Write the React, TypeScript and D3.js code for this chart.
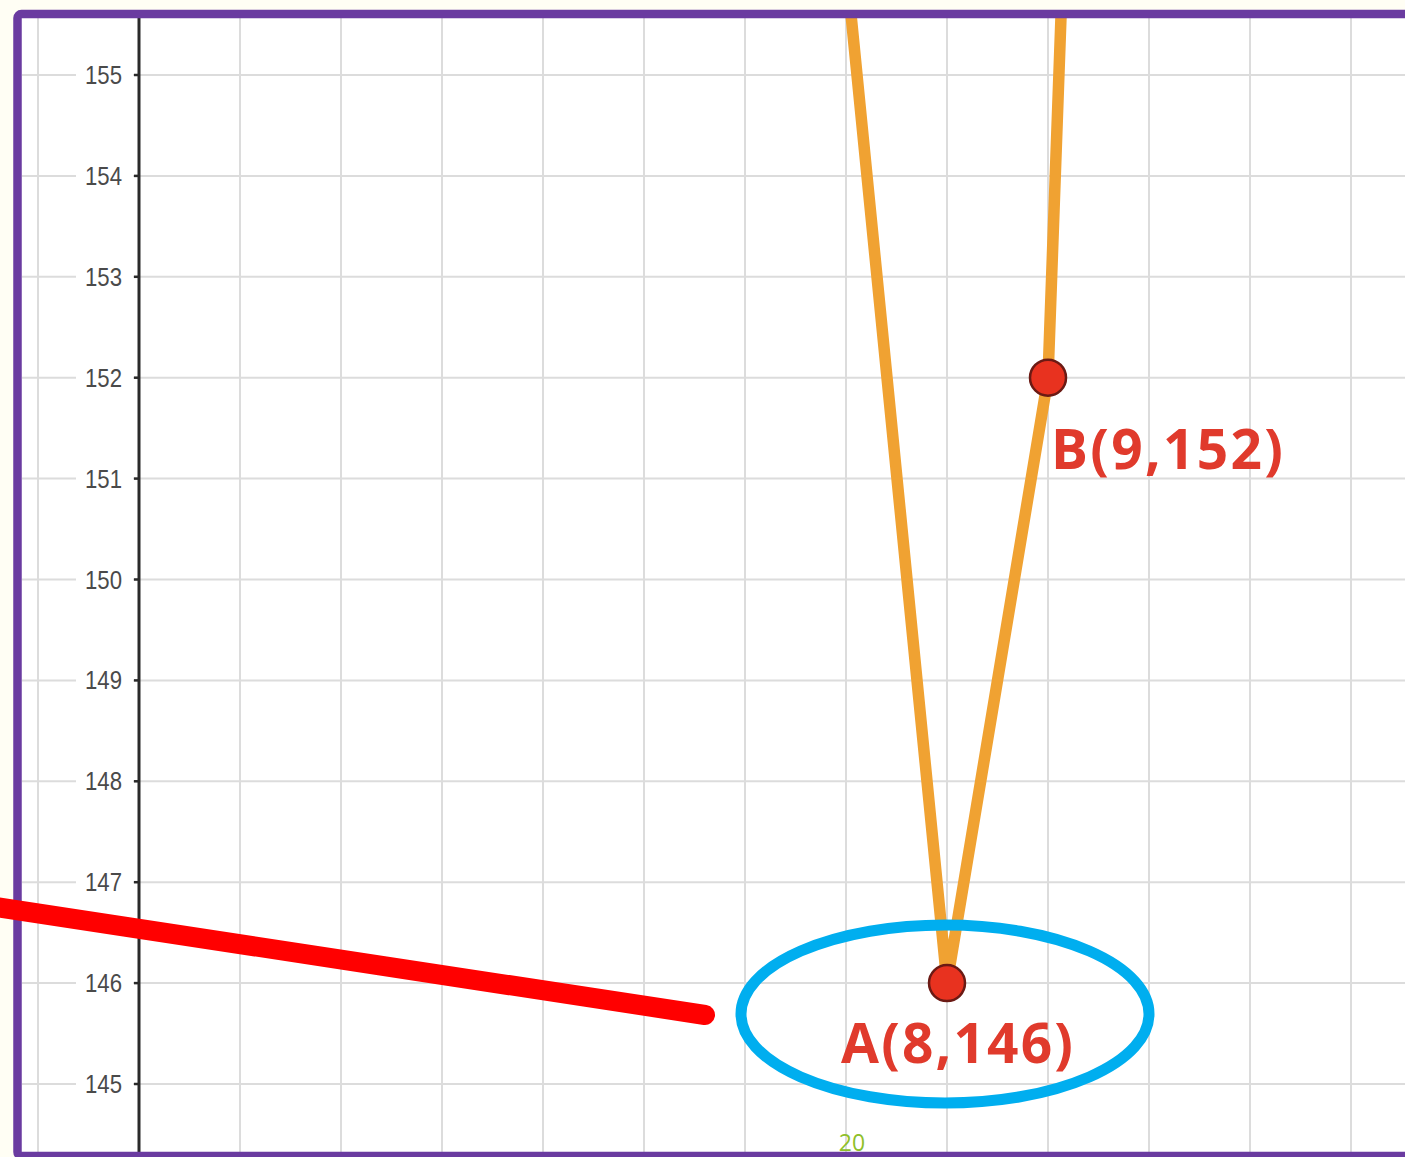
import React from "react";
import * as d3 from "d3";

const yTicks = [145, 146, 147, 148, 149, 150, 151, 152, 153, 154, 155];
const xGrid = [-1, 0, 1, 2, 3, 4, 5, 6, 7, 8, 9, 10, 11, 12];
const curveX = [7, 8, 9, 10];
const curveY = [156.1, 146, 152, 179.8];
const pointLabels = ["A(8,146)", "B(9,152)"];
const pointX = [8, 9];
const pointY = [146, 152];
const pageNumber = "20";

export default function App() {
  const W = 1405;
  const H = 1157;
  const x = d3.scaleLinear().domain([-1, 12]).range([38, 1351]);
  const y = d3.scaleLinear().domain([145, 155]).range([1084, 75]);
  const line = d3
    .line<number>()
    .x((_, i) => x(curveX[i]))
    .y((d) => y(d));

  const labelOffsets = [
    { dx: -106, dy: 80 },
    { dx: 3, dy: 91 },
  ];

  return (
    <svg
      width={W}
      height={H}
      style={{ position: "absolute", left: 0, top: 0, display: "block" }}
    >
      <defs>
        <clipPath id="plot">
          <rect x={22} y={18} width={W} height={1134} />
        </clipPath>
      </defs>
      <rect x={0} y={0} width={W} height={H} fill="#fffef4" />
      <rect x={17} y={14} width={W} height={1142} fill="#ffffff" />
      <g clipPath="url(#plot)">
        {xGrid.map((v) => (
          <line
            key={"vx" + v}
            x1={x(v)}
            x2={x(v)}
            y1={0}
            y2={H}
            stroke="#dcdcdc"
            strokeWidth={2}
          />
        ))}
        {yTicks.map((v) => (
          <line
            key={"hy" + v}
            x1={0}
            x2={W}
            y1={y(v)}
            y2={y(v)}
            stroke="#dcdcdc"
            strokeWidth={2}
          />
        ))}
        {yTicks.map((v) => (
          <rect
            key={"bg" + v}
            x={76}
            y={y(v) - 3}
            width={57}
            height={6}
            fill="#ffffff"
          />
        ))}
        <line
          x1={x(0)}
          x2={x(0)}
          y1={0}
          y2={H}
          stroke="#2a2a2a"
          strokeWidth={3}
        />
        {yTicks.map((v) => (
          <g key={"t" + v}>
            <line
              x1={x(0) - 5}
              x2={x(0)}
              y1={y(v)}
              y2={y(v)}
              stroke="#2a2a2a"
              strokeWidth={2.5}
            />
            <text
              x={85}
              y={y(v) + 9}
              fontFamily="'Liberation Sans Narrow', 'Liberation Sans', sans-serif"
              fontSize={25}
              fill="#4a4a4a"
              textLength={37}
              lengthAdjust="spacingAndGlyphs"
            >
              {v}
            </text>
          </g>
        ))}
        <path
          d={line(curveY) || ""}
          fill="none"
          stroke="#f0a232"
          strokeWidth={11.5}
          strokeLinejoin="round"
        />
        {pointX.map((px, i) => (
          <circle
            key={"p" + i}
            cx={x(px)}
            cy={y(pointY[i])}
            r={18}
            fill="#e8321f"
            stroke="#6b1a14"
            strokeWidth={2.5}
          />
        ))}
        {pointX.map((px, i) => (
          <text
            key={"l" + i}
            x={x(px) + labelOffsets[i].dx}
            y={y(pointY[i]) + labelOffsets[i].dy}
            fontFamily="'Open Sans', sans-serif"
            fontWeight={700}
            fontSize={55}
            fill="#e03a2c"
            textLength={232}
            lengthAdjust="spacing"
          >
            {pointLabels[i]}
          </text>
        ))}
        <ellipse
          cx={945}
          cy={1014}
          rx={204}
          ry={89}
          fill="none"
          stroke="#00aeef"
          strokeWidth={11}
        />
        <text
          x={852}
          y={1151}
          textAnchor="middle"
          fontFamily="'Open Sans', sans-serif"
          fontSize={23}
          fill="#8fbf2a"
        >
          {pageNumber}
        </text>
      </g>
      <rect
        x={17.5}
        y={14}
        width={W + 20}
        height={1142}
        rx={4}
        fill="none"
        stroke="#6a3ba0"
        strokeWidth={8.5}
      />
      <line
        x1={-10}
        y1={906}
        x2={705}
        y2={1015}
        stroke="#ff0000"
        strokeWidth={20}
        strokeLinecap="round"
      />
    </svg>
  );
}
